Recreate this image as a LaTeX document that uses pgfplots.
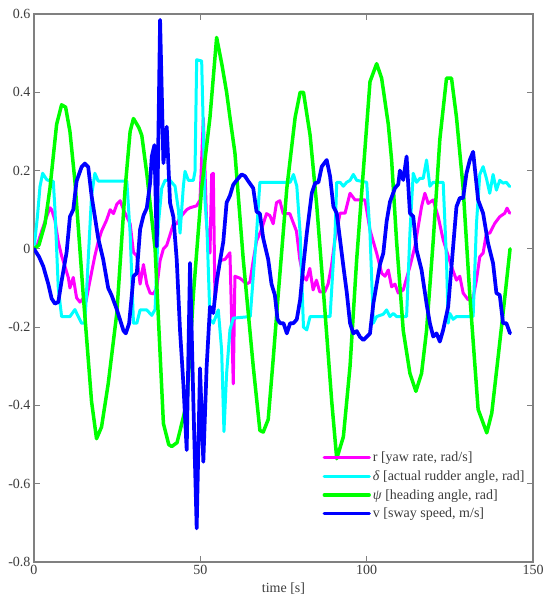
\documentclass[border=0pt]{standalone}
\usepackage{fontspec}
\setmainfont{Liberation Serif}
\usepackage{pgfplots}
\usepackage{pgfplotstable}
\pgfplotsset{compat=1.18}

\definecolor{rcol}{RGB}{255,0,255}
\definecolor{dcol}{RGB}{0,255,255}
\definecolor{pcol}{RGB}{0,255,0}
\definecolor{vcol}{RGB}{0,0,255}
\definecolor{framecol}{RGB}{128,128,128}
\definecolor{labcol}{RGB}{60,60,60}

% yaw rate r [rad/s]
\pgfplotstableread{
t v
0 0
0.8 0.005
2.3 0.045
3.8 0.082
4.8 0.105
5.3 0.1
6.3 0.073
7.3 0.018
8.3 -0.018
9.3 -0.045
10.3 -0.073
10.8 -0.1
11.8 -0.073
12.8 -0.125
13.8 -0.136
14.8 -0.127
15.6 -0.136
16.8 -0.082
18.3 -0.018
19.3 0.018
20.3 0.045
21.8 0.073
22.9 0.1
23.9 0.09
24.9 0.114
25.9 0.123
26.9 0.1
27.9 0.082
28.9 0.064
29.9 -0.009
30.9 -0.018
31.9 -0.09
32.9 -0.04
33.9 -0.09
34.9 -0.113
35.9 -0.115
36.9 -0.1
37.9 -0.03
38.9 0.0
39.9 0.009
40.9 0.036
41.9 0.064
42.9 0.064
43.9 0.08
44.9 0.09
45.9 0.1
46.9 0.105
48.9 0.11
49.9 0.125
50.9 0.334
51.4 0.2
51.9 0.06
52.9 -0.011
53.4 0.19
53.9 0.193
54.4 -0.13
55.9 -0.03
57.4 -0.027
58.9 -0.01
59.9 -0.345
60.4 -0.07
61.9 -0.075
62.9 -0.082
63.9 -0.09
64.9 -0.085
65.9 -0.03
66.9 0.02
68.4 0.05
69.9 0.09
70.9 0.085
71.9 0.064
72.9 0.118
73.9 0.123
74.9 0.09
76.9 0.09
78.9 0.045
79.9 -0.027
80.9 -0.07
81.9 -0.08
82.9 -0.05
83.9 -0.105
84.9 -0.08
85.9 -0.11
87.4 -0.11
88.4 -0.09
89.4 -0.045
90.4 0.02
91.4 0.064
92 0.091
93.5 0.091
95 0.142
96.5 0.125
99.5 0.125
101 0.048
103 -0.011
104.5 -0.062
105.5 -0.07
106.5 -0.054
107.5 -0.097
108.5 -0.09
109.5 -0.113
111 -0.105
113 -0.045
114.5 0.006
116.5 0.108
117.5 0.142
118.5 0.116
120 0.125
121.5 0.082
123 0.023
125.5 -0.045
127 -0.08
128 -0.07
129 -0.113
130.5 -0.13
132 -0.125
133 -0.08
134 -0.02
135 -0.011
136 0.04
137 0.04
138.5 0.065
140 0.082
141.5 0.091
142.2 0.104
143 0.091
}\yawrate

% actual rudder angle delta [rad]
\pgfplotstableread{
t v
0 0
1.0 0.08
1.8 0.159
2.6 0.193
3.8 0.177
4.8 0.173
5.8 0.173
6.3 0.1
7.3 -0.1
8.3 -0.173
10.8 -0.173
12.3 -0.155
13.3 -0.173
14.3 -0.19
15.3 -0.19
16.3 -0.027
17.3 0.136
18.3 0.193
19.3 0.173
27.9 0.173
28.9 0.04
29.9 -0.19
30.9 -0.19
31.9 -0.156
33.9 -0.156
35.4 -0.17
36.4 -0.155
37.4 0.064
38.4 0.155
39.4 0.175
40.9 0.175
42.4 0.16
43.4 0.1
43.9 0.04
44.9 0.16
45.4 0.198
46.4 0.175
47.9 0.175
48.4 0.198
48.9 0.483
50.4 0.48
51.4 0.125
52.0 0.05
52.9 -0.18
53.9 -0.19
55.4 -0.156
56.4 -0.258
57.1 -0.467
57.9 -0.318
58.9 -0.207
59.9 -0.177
65 -0.173
66.9 0.04
67.9 0.17
77 0.17
78 0.19
79 0.16
80 0.04
81 -0.2
82 -0.207
83 -0.173
89 -0.173
90.5 0.04
91 0.17
92 0.17
93 0.16
94 0.17
95 0.175
96 0.19
97 0.175
100 0.17
101 0.04
102 -0.19
103 -0.173
105 -0.167
106 -0.156
107 -0.173
108 -0.165
109 -0.173
112 -0.173
113 0.04
114 0.193
115 0.17
116 0.18
117 0.18
118 0.227
119 0.16
120 0.17
123 0.17
124 -0.03
124.5 -0.19
125 -0.165
126 -0.18
127 -0.173
132 -0.173
133 0.064
134 0.19
135 0.21
136 0.18
137 0.142
138 0.19
139 0.15
140 0.175
141 0.168
142 0.17
143 0.159
}\rudder

% heading angle psi [rad]
\pgfplotstableread{
t v
0 0
1.5 0.01
3.3 0.064
4.8 0.155
6.8 0.318
8.3 0.368
9.5 0.362
10.8 0.30
12.3 0.173
14.8 -0.118
17.3 -0.39
18.8 -0.485
20.3 -0.455
22.3 -0.345
24.9 -0.164
27.4 0.155
28.9 0.30
29.9 0.333
31.5 0.31
32.4 0.29
33.9 0.193
36.4 0.0
38.9 -0.446
40.5 -0.50
41.4 -0.505
43.0 -0.495
44.9 -0.43
46 -0.39
47.9 -0.118
50.4 0.155
52.9 0.336
54.9 0.54
56.5 0.47
57.9 0.40
59 0.33
60.4 0.245
62.9 -0.027
65.9 -0.30
67.9 -0.464
68.9 -0.468
70.4 -0.436
71.9 -0.282
73.4 -0.118
76.0 0.155
78.5 0.336
80.0 0.40
81.0 0.40
83.0 0.29
85.0 0.11
87.5 -0.164
89.5 -0.39
91.0 -0.536
93.0 -0.48
95.0 -0.30
97.0 -0.027
99.0 0.2
101.0 0.427
103.0 0.473
104.5 0.436
106.5 0.318
107.5 0.227
109.0 0.018
111.0 -0.209
113.0 -0.318
114.8 -0.364
116.5 -0.318
118.0 -0.209
120.0 0.02
122.0 0.28
124.0 0.436
125.5 0.436
127.0 0.336
129.0 0.155
131.0 -0.118
133.5 -0.41
136.1 -0.47
137.6 -0.42
139.6 -0.27
141.6 -0.118
143.1 0.0
}\heading

% sway speed v [m/s]
\pgfplotstableread{
t v
0 0
1.5 -0.02
2.8 -0.045
4.3 -0.09
5.3 -0.127
6.3 -0.14
7.3 -0.136
8.3 -0.082
9.8 -0.009
10.8 0.082
11.8 0.1
12.8 0.173
14.3 0.209
15.3 0.218
16.3 0.209
17.3 0.136
18.3 0.082
19.3 0.027
20.8 -0.027
22.3 -0.1
23.3 -0.118
24.9 -0.155
26.9 -0.209
27.6 -0.216
28.6 -0.19
29.4 -0.118
29.9 -0.07
30.9 -0.062
31.9 0.05
32.9 0.085
33.9 0.104
34.9 0.168
35.4 0.236
36.2 0.265
36.9 0.006
37.9 0.585
38.9 0.219
39.9 0.312
40.9 0.117
41.9 0.082
42.9 -0.027
43.9 -0.209
44.9 -0.345
45.9 -0.514
46.9 -0.036
47.9 -0.39
48.9 -0.714
49.9 -0.305
50.9 -0.544
51.9 -0.3
52.9 -0.148
53.9 -0.164
54.9 -0.082
56.9 0.018
57.9 0.118
58.9 0.136
59.9 0.164
60.9 0.175
62.4 0.19
63.4 0.186
64.4 0.173
65.9 0.155
66.9 0.095
67.9 0.09
68.9 0.027
70.4 -0.027
71.4 -0.09
72.4 -0.118
73.2 -0.18
74 -0.19
75 -0.19
76 -0.216
77 -0.19
78 -0.19
79 -0.18
80 -0.13
81 -0.04
82 0.04
83.5 0.142
84.5 0.168
85.5 0.17
86.5 0.21
88 0.227
89 0.185
90 0.108
91 0.091
92 0.023
93 -0.045
94 -0.11
95 -0.19
96 -0.216
97 -0.21
98 -0.225
99 -0.233
100 -0.225
101 -0.216
102 -0.14
103 -0.09
104 -0.04
105 -0.011
106 0.07
107 0.12
108.5 0.155
109.5 0.165
110 0.2
111 0.176
112 0.236
113 0.091
114 0.083
115 -0.003
116.5 -0.054
118 -0.14
119 -0.19
120 -0.224
121 -0.216
122 -0.237
123 -0.207
124.5 -0.148
125.5 -0.045
127 0.108
128 0.13
129 0.13
130 0.193
131 0.227
132 0.248
133.5 0.125
135 0.091
136.5 0.014
138 -0.037
139 -0.113
140 -0.118
141 -0.19
142 -0.19
143.1 -0.216
}\sway

\begin{document}
\begin{tikzpicture}
\path[use as bounding box] (0,0) rectangle (545pt,597pt);
\begin{axis}[
  at={(34pt,35pt)}, anchor=south west,
  scale only axis, width=499pt, height=548pt,
  xmin=0, xmax=150, ymin=-0.8, ymax=0.6,
  xtick={0,50,100,150},
  ytick={-0.8,-0.6,-0.4,-0.2,0,0.2,0.4,0.6},
  yticklabels={-0.8,-0.6,-0.4,-0.2,0,0.2,0.4,0.6},
  xticklabels={0,50,100,150},
  tick align=inside,
  major tick length=6pt,
  axis line style={framecol, line width=1.1pt},
  every tick/.style={framecol, line width=0.9pt},
  tick label style={font=\fontsize{14}{16}\selectfont, text=labcol},
  xlabel={time [s]},
  xlabel style={font=\fontsize{14}{16}\selectfont, text=labcol, at={(axis description cs:0.5,-0.049)}, anchor=center},
  legend cell align=left,
  legend style={draw=none, fill=none, at={(0.578,0.205)}, anchor=north west,
    font=\fontsize{14}{16}\selectfont, text=labcol, row sep=3.5pt, inner sep=0pt},
  legend image code/.code={\draw[#1, line width=3.3pt] (0pt,0pt) -- (45pt,0pt);},
  every axis plot/.append style={line join=round, line cap=round},
]
\addplot[rcol, line width=3pt] table[x=t, y=v] {\yawrate};
\addlegendentry{r [yaw rate, rad/s]}
\addplot[dcol, line width=3pt] table[x=t, y=v] {\rudder};
\addlegendentry{\textit{δ} [actual rudder angle, rad]}
\addplot[pcol, line width=3.5pt] table[x=t, y=v] {\heading};
\addlegendentry{\textit{ψ} [heading angle, rad]}
\addplot[vcol, line width=3.7pt] table[x=t, y=v] {\sway};
\addlegendentry{v [sway speed, m/s]}
\end{axis}
\end{tikzpicture}
\end{document}
